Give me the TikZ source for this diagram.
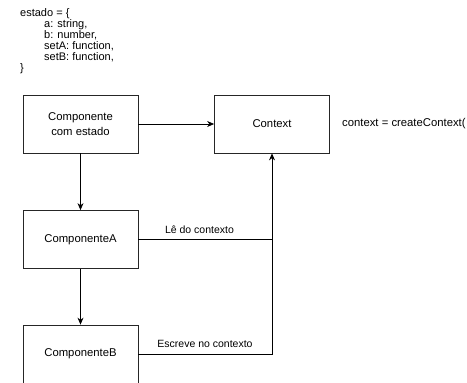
\documentclass[tikz,border=0pt]{standalone}
\usepackage{fontspec}
\setmainfont{Liberation Sans}
\usetikzlibrary{arrows.meta}
\begin{document}
\begin{tikzpicture}[x=1pt,y=-1pt,
  box/.style={draw=black!85, line width=0.8pt, minimum width=115pt, minimum height=58pt,
    inner sep=0pt, align=center, font=\fontsize{11.3}{15}\selectfont},
  conn/.style={draw=black, line width=0.8pt},
  arr/.style={conn, -{Stealth[length=7pt,width=6pt]}},
  lbl/.style={font=\fontsize{10.5}{12}\selectfont, inner sep=0pt},
  plain/.style={font=\fontsize{11.3}{13}\selectfont, inner sep=0pt}]
\useasboundingbox (0,0) rectangle (467,383);
\node[plain, anchor=north west, align=left, font=\fontsize{11}{11.1}\selectfont] (estado) at (20,8)
  {estado = \{\\
   \hspace*{24pt}a: string,\\
   \hspace*{24pt}b: number,\\
   \hspace*{24pt}setA: function,\\
   \hspace*{24pt}setB: function,\\
   \}};
\node[box] (comp) at (80.5,124) {Componente\\com estado};
\node[box] (ctx) at (272,124) {Context};
\node[box] (ca) at (80.5,239.5) {ComponenteA};
\node[box] (cb) at (80.5,354) {ComponenteB};
\node[plain, anchor=west] (ctxtxt) at (342,124) {context = createContext(};
\draw[arr] (comp) -- (ctx);
\draw[arr] (comp) -- (ca);
\draw[arr] (ca) -- (cb);
\coordinate (j) at (ca.east -| ctx.south);
\draw[conn] (ca.east) -- (j);
\draw[arr] (cb.east) -| (ctx.south);
\node[lbl] (l1) at (199.5,230) {Lê do contexto};
\node[lbl] (l2) at (205,344) {Escreve no contexto};
\end{tikzpicture}
\end{document}
